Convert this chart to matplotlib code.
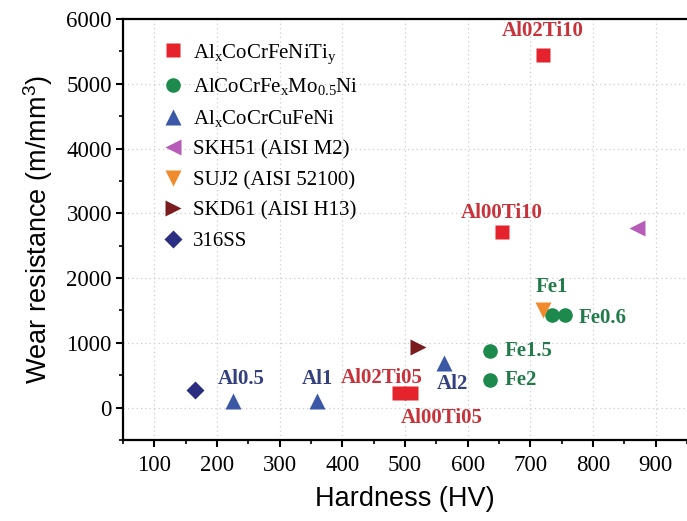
import matplotlib
matplotlib.use("Agg")
import matplotlib.pyplot as plt

# ---- data ----
ti_x = [720, 655, 490, 510]
ti_y = [5450, 2710, 220, 220]
ti_labels = ["Al02Ti10", "Al00Ti10", "Al02Ti05", "Al00Ti05"]

fe_x = [735, 755, 635, 635]
fe_y = [1430, 1430, 870, 430]
fe_labels = ["Fe1", "Fe0.6", "Fe1.5", "Fe2"]

cu_x = [225, 360, 562]
cu_y = [100, 100, 690]
cu_labels = ["Al0.5", "Al1", "Al2"]

skh51_x, skh51_y = [870], [2770]
suj2_x, suj2_y = [720], [1500]
skd61_x, skd61_y = [520], [930]
ss316_x, ss316_y = [165], [270]

series_names = [r"Al$_x$CoCrFeNiTi$_y$", r"AlCoCrFe$_x$Mo$_{0.5}$Ni", r"Al$_x$CoCrCuFeNi",
                "SKH51 (AISI M2)", "SUJ2 (AISI 52100)", "SKD61 (AISI H13)", "316SS"]

x_ticks = [100, 200, 300, 400, 500, 600, 700, 800, 900]
y_ticks = [0, 1000, 2000, 3000, 4000, 5000, 6000]

# label offsets (points) and alignment
ti_off = [((0, 17), "center"), ((0, 14), "center"), ((-12, 11), "center"), ((22, -18), "center")]
fe_off = [((0, 20), "center"), ((10, -2), "left"), ((11, 0), "left"), ((11, 0), "left")]
cu_off = [((6, 16), "center"), ((0, 16), "center"), ((6, -15), "center")]

plt.rcParams["mathtext.default"] = "regular"
serif = "Liberation Serif"
sans = "Liberation Sans"

fig = plt.figure(figsize=(6.87, 5.21), dpi=100)
ax = fig.add_axes([123 / 687, 1 - 440 / 521, 1 - 123 / 687, (440 - 19) / 521])

c_red, c_green, c_blue = "#e5232c", "#1b8a4c", "#3a58a6"
c_mag, c_org, c_dred, c_navy = "#b65cb8", "#f08a2e", "#7a1c1e", "#2b2d80"
t_red, t_green, t_blue = "#c8323a", "#237a4b", "#34407e"

h1, = ax.plot(ti_x, ti_y, "s", color=c_red, ms=9.5, mec="none", linestyle="none")
h2, = ax.plot(fe_x, fe_y, "o", color=c_green, ms=10.5, mec="none", linestyle="none")
h3, = ax.plot(cu_x, cu_y, "^", color=c_blue, ms=12, mec="none", linestyle="none")
h4, = ax.plot(skh51_x, skh51_y, "<", color=c_mag, ms=12, mec="none", linestyle="none")
h5, = ax.plot(suj2_x, suj2_y, "v", color=c_org, ms=12, mec="none", linestyle="none")
h6, = ax.plot(skd61_x, skd61_y, ">", color=c_dred, ms=12, mec="none", linestyle="none")
h7, = ax.plot(ss316_x, ss316_y, "D", color=c_navy, ms=9, mec="none", linestyle="none")

def label_points(xs, ys, labels, offs, color):
    for x, y, t, (off, ha) in zip(xs, ys, labels, offs):
        ax.annotate(t, (x, y), xytext=off, textcoords="offset points", ha=ha, va="center",
                    fontsize=15, fontweight="bold", family=serif, color=color)

label_points(ti_x, ti_y, ti_labels, ti_off, t_red)
label_points(fe_x, fe_y, fe_labels, fe_off, t_green)
label_points(cu_x, cu_y, cu_labels, cu_off, t_blue)

ax.set_xlim(54.5, 941)
ax.set_ylim(-268, 6000)
ax.set_xticks(x_ticks)
ax.set_yticks(y_ticks)
ax.set_xticks([v + 50 for v in [0] + x_ticks], minor=True)
ax.set_yticks([v + 500 for v in [-1000] + y_ticks[:-1]], minor=True)
ax.set_xticklabels([str(v) for v in x_ticks], family=serif, fontsize=16.5)
ax.set_yticklabels([str(v) for v in y_ticks], family=serif, fontsize=16.5)
ax.tick_params(axis="x", which="major", direction="out", length=5, width=1.5, pad=6)
ax.tick_params(axis="y", which="major", direction="out", length=5, width=1.5, pad=3)
ax.tick_params(which="minor", direction="out", length=3, width=1.2)
ax.grid(True, which="major", linestyle=(0, (1, 2.5)), color="#cccccc", linewidth=0.9)
ax.set_axisbelow(True)
for s in ["left", "bottom", "top"]:
    ax.spines[s].set_linewidth(1.6)
ax.spines["right"].set_visible(False)

ax.set_xlabel("Hardness (HV)", family=sans, fontsize=19.5, labelpad=7)
ax.set_ylabel(r"Wear resistance (m/mm$^3$)", family=sans, fontsize=19.5, labelpad=8)

leg = ax.legend([h1, h2, h3, h4, h5, h6, h7], series_names, loc="upper left",
                bbox_to_anchor=(0.045, 0.975), frameon=False, prop={"family": serif, "size": 15},
                handletextpad=0.35, labelspacing=0.52, handlelength=1.2, borderaxespad=0.2,
                markerscale=1.0)

fig.savefig("out.png", dpi=100)
